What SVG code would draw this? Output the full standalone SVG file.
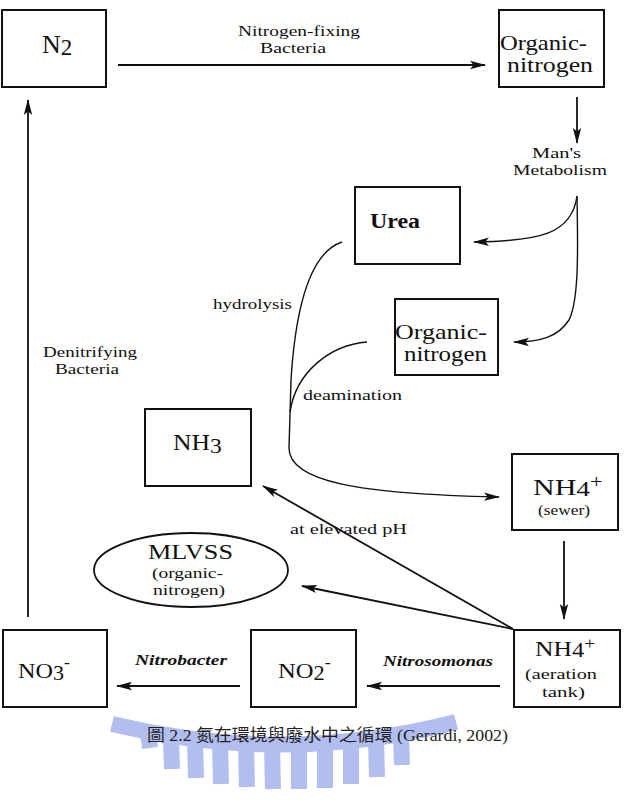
<svg xmlns="http://www.w3.org/2000/svg" width="625" height="801" viewBox="0 0 625 801">
  <style>
    .box { fill: #fff; stroke: #111; stroke-width: 2; }
    .oval { fill: #fff; stroke: #111; stroke-width: 1.8; }
    .edge { fill: none; stroke: #111; stroke-width: 1.8; }
    .thin { fill: none; stroke: #111; stroke-width: 1.4; }
    .t { font-family: "Liberation Serif", "Times New Roman", serif; fill: #111; }
    .big { font-size: 24px; }
    .two { font-size: 21px; }
    .mid { font-size: 21px; }
    .sm { font-size: 15px; }
    .it { font-style: italic; font-weight: bold; font-size: 15px; }
    .cap { font-family: "Liberation Serif", "Noto Sans CJK TC", serif; font-size: 17px; fill: #222; }
    .wmt { fill: none; stroke: #b2bdf0; stroke-width: 16; }
  </style>
  <defs>
    <marker id="ah" markerUnits="userSpaceOnUse" markerWidth="16" markerHeight="10" refX="15" refY="5" orient="auto">
      <path d="M0,0.8 L16,5 L0,9.2 L3.5,5 z" fill="#111"/>
    </marker>
  </defs>

  <rect width="625" height="801" fill="#fff"/>

  <!-- watermark arc with hanging bars -->
  <g id="watermark">
    <path class="wmt" d="M112,724 Q285,766 456,722"/>
    <path class="wmt" d="M148,733 L150,748 M171,738 L172,769 M195,741 L196,778 M220,743 L221,784 M246,744 L247,787 M272,745 L273,789 M299,745 L299,789 M325,744 L325,788 M351,742 L351,784 M376,740 L377,777 M401,736 L402,765"/>
  </g>

  <!-- connectors -->
  <g id="connectors">
    <path class="edge" d="M118,65 H485" marker-end="url(#ah)"/>
    <path class="edge" d="M577,97 V143" marker-end="url(#ah)"/>
    <path class="thin" d="M577,196 C572,234 540,241 474,242" marker-end="url(#ah)"/>
    <path class="thin" d="M577,196 C578,250 579,300 569,320 C558,337 540,342 514,342" marker-end="url(#ah)"/>
    <path class="thin" d="M342,242 C312,252 296,300 291,380 L289,448 C289,482 360,494 499,497" marker-end="url(#ah)"/>
    <path class="thin" d="M367,342 C330,345 296,372 290,412"/>
    <path class="edge" d="M513,629 L263,486" marker-end="url(#ah)"/>
    <path class="edge" d="M513,629 L302,586" marker-end="url(#ah)"/>
    <path class="edge" d="M564,541 V619" marker-end="url(#ah)"/>
    <path class="edge" d="M500,686 H367" marker-end="url(#ah)"/>
    <path class="edge" d="M240,686 H117" marker-end="url(#ah)"/>
    <path class="edge" d="M28,617 V100" marker-end="url(#ah)"/>
  </g>

  <!-- connector labels -->
  <g id="labels">
    <text class="t sm" x="238" y="36" textLength="122" lengthAdjust="spacingAndGlyphs">Nitrogen-fixing</text>
    <text class="t sm" x="260" y="53" textLength="66" lengthAdjust="spacingAndGlyphs">Bacteria</text>
    <text class="t sm" x="532" y="158" textLength="49" lengthAdjust="spacingAndGlyphs">Man's</text>
    <text class="t sm" x="513" y="175" textLength="94" lengthAdjust="spacingAndGlyphs">Metabolism</text>
    <text class="t sm" x="213" y="309" textLength="79" lengthAdjust="spacingAndGlyphs">hydrolysis</text>
    <text class="t sm" x="303" y="400" textLength="99" lengthAdjust="spacingAndGlyphs">deamination</text>
    <text class="t sm" x="43" y="357" textLength="94" lengthAdjust="spacingAndGlyphs">Denitrifying</text>
    <text class="t sm" x="55" y="374" textLength="64" lengthAdjust="spacingAndGlyphs">Bacteria</text>
    <text class="t sm" x="290" y="534" textLength="117" lengthAdjust="spacingAndGlyphs">at elevated pH</text>
    <text class="t it" x="135" y="665" textLength="92" lengthAdjust="spacingAndGlyphs">Nitrobacter</text>
    <text class="t it" x="383" y="666" textLength="110" lengthAdjust="spacingAndGlyphs">Nitrosomonas</text>
  </g>

  <g id="n2">
    <rect class="box" x="2" y="10" width="104" height="77"/>
    <text class="t" x="42" y="53" font-size="26">N<tspan font-size="23" dy="2">2</tspan></text>
  </g>

  <g id="organic-nitrogen-1">
    <rect class="box" x="499" y="10" width="105" height="77"/>
    <text class="t two" x="500" y="50" textLength="87" lengthAdjust="spacingAndGlyphs">Organic-</text>
    <text class="t two" x="507" y="72" textLength="86" lengthAdjust="spacingAndGlyphs">nitrogen</text>
  </g>

  <g id="urea">
    <rect class="box" x="355" y="187" width="105" height="77"/>
    <text class="t" x="370" y="228" font-size="20" font-weight="bold" textLength="50" lengthAdjust="spacingAndGlyphs">Urea</text>
  </g>

  <g id="organic-nitrogen-2">
    <rect class="box" x="395" y="299" width="103" height="76"/>
    <text class="t two" x="395" y="339" textLength="92" lengthAdjust="spacingAndGlyphs">Organic-</text>
    <text class="t two" x="404" y="361" textLength="83" lengthAdjust="spacingAndGlyphs">nitrogen</text>
  </g>

  <g id="nh3">
    <rect class="box" x="145" y="409" width="106" height="77"/>
    <text class="t big" transform="translate(173,450) scale(1.07,1)">NH<tspan font-size="22" dy="3">3</tspan></text>
  </g>

  <g id="mlvss">
    <ellipse class="oval" cx="191" cy="570" rx="97" ry="37"/>
    <text class="t" x="148" y="559" font-size="21" textLength="85" lengthAdjust="spacingAndGlyphs">MLVSS</text>
    <text class="t sm" x="152" y="578" textLength="71" lengthAdjust="spacingAndGlyphs">(organic-</text>
    <text class="t sm" x="153" y="595" textLength="72" lengthAdjust="spacingAndGlyphs">nitrogen)</text>
  </g>

  <g id="nh4-sewer">
    <rect class="box" x="512" y="454" width="106" height="76"/>
    <text class="t big" transform="translate(533,495) scale(1.25,1)">NH<tspan font-size="22" dy="1">4</tspan><tspan font-size="18" dy="-8">+</tspan></text>
    <text class="t sm" x="538" y="515" textLength="52" lengthAdjust="spacingAndGlyphs">(sewer)</text>
  </g>

  <g id="nh4-aeration">
    <rect class="box" x="514" y="630" width="106" height="77"/>
    <text class="t mid" transform="translate(535,656) scale(1.22,1)">NH<tspan font-size="20" dy="1">4</tspan><tspan font-size="16" dy="-8">+</tspan></text>
    <text class="t sm" x="525" y="679" textLength="72" lengthAdjust="spacingAndGlyphs">(aeration</text>
    <text class="t sm" x="542" y="697" textLength="43" lengthAdjust="spacingAndGlyphs">tank)</text>
  </g>

  <g id="no2">
    <rect class="box" x="251" y="630" width="105" height="77"/>
    <text class="t" font-size="22" transform="translate(278,678) scale(1.12,1)">NO<tspan font-size="20" dy="2">2</tspan><tspan font-size="16" dy="-12">-</tspan></text>
  </g>

  <g id="no3">
    <rect class="box" x="3" y="630" width="104" height="77"/>
    <text class="t" font-size="22" transform="translate(18,678) scale(1.1,1)">NO<tspan font-size="20" dy="2">3</tspan><tspan font-size="16" dy="-12">-</tspan></text>
  </g>

  <text class="cap" x="147" y="741" textLength="361" lengthAdjust="spacingAndGlyphs">圖 2.2 氮在環境與廢水中之循環 (Gerardi, 2002)</text>
</svg>
